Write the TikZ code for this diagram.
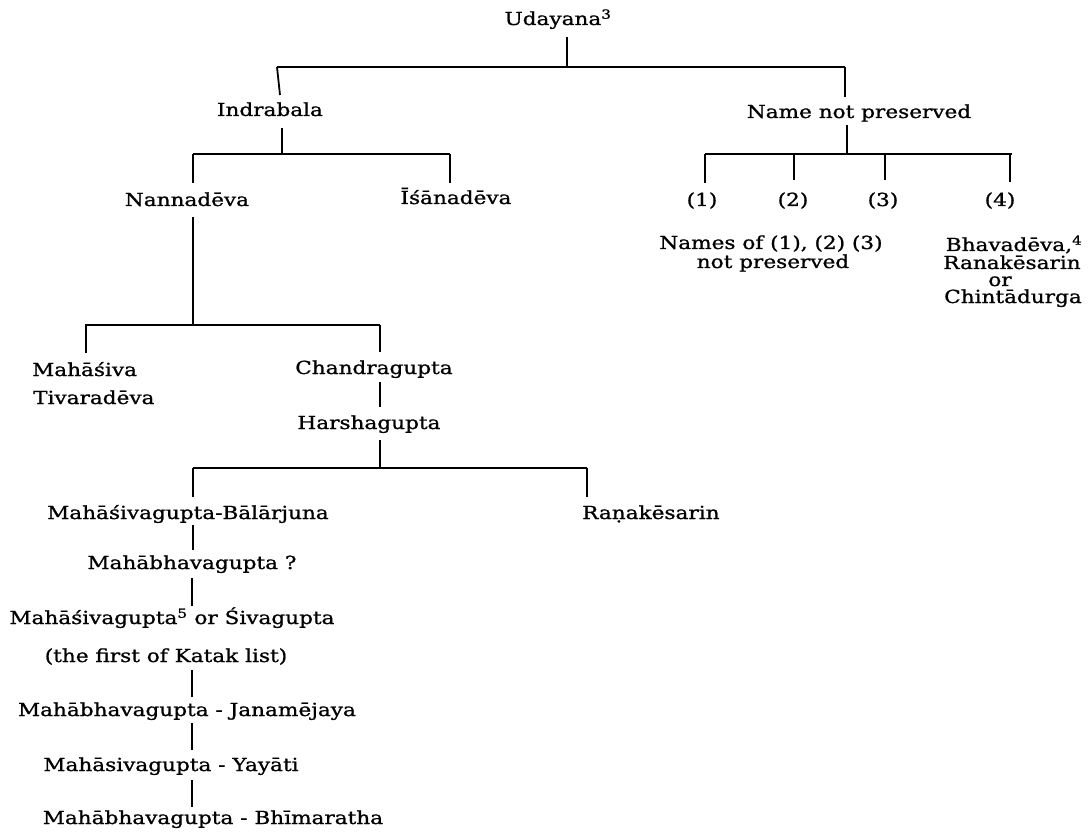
\documentclass[tikz,border=0pt]{standalone}
\usepackage{fontspec}
\setmainfont{DejaVu Serif}[FakeStretch=1.2,FakeBold=1]
\begin{document}
\begin{tikzpicture}[x=1pt,y=-1pt,
  lbl/.style={inner sep=0pt,anchor=base,font=\fontsize{18}{19}\selectfont},
  lblw/.style={lbl,anchor=base west},
  bar/.style={line width=1.2pt},
  stem/.style={line width=1.8pt}]
\useasboundingbox[fill=white] (0,0) rectangle (1092,834);
% nodes
\node[lbl] (U) at (558,25) {Udayana\textsuperscript{3}};
\node[lbl] (Ind) at (270,116) {Indrabala};
\node[lbl] (NNP) at (859,118) {Name not preserved};
\node[lbl] (Nan) at (187,206) {Nannadēva};
\node[lbl] (Isa) at (456,204) {Īśānadēva};
\node[lbl] (p1) at (702,206) {(1)};
\node[lbl] (p2) at (793,206) {(2)};
\node[lbl] (p3) at (883,206) {(3)};
\node[lbl] (p4) at (1000,206) {(4)};
\node[lbl] (NamA) at (771,249) {Names of (1), (2) (3)};
\node[lbl] (NamB) at (773,268) {not preserved};
\node[lbl] (Bh1) at (1014,251) {Bhavadēva,\textsuperscript{4}};
\node[lbl] (Bh2) at (1012,269) {Ranakēsarin};
\node[lbl] (Bh3) at (1000,286) {or};
\node[lbl] (Bh4) at (1013,303) {Chintādurga};
\node[lblw] (MSv) at (32,376) {Mahāśiva};
\node[lblw] (Tiv) at (33,404) {Tivaradēva};
\node[lbl] (Cha) at (374,374) {Chandragupta};
\node[lbl] (Har) at (369,429) {Harshagupta};
\node[lbl] (MSB) at (188,519) {Mahāśivagupta-Bālārjuna};
\node[lblw] (Ran) at (582,519) {Raṇakēsarin};
\node[lbl] (MBq) at (192,569) {Mahābhavagupta ?};
\node[lbl] (MS5) at (172,624) {Mahāśivagupta\textsuperscript{5} or Śivagupta};
\node[lbl] (Kat) at (166,662) {(the first of Katak list)};
\node[lbl] (Jan) at (187,716) {Mahābhavagupta - Janamējaya};
\node[lbl] (Yay) at (171,771) {Mahāsivagupta - Yayāti};
\node[lbl] (Bhi) at (213,824) {Mahābhavagupta - Bhīmaratha};
% junction coordinates
\coordinate (u0) at (567,37);   \coordinate (u1) at (567,67);
\coordinate (bL) at (277,67);   \coordinate (bR) at (845,67);
\coordinate (i0) at (280,95);   \coordinate (n0) at (845,97);
\coordinate (i1) at (282,128);  \coordinate (i2) at (282,154);
\coordinate (cL) at (193,154);  \coordinate (cR) at (450,154);
\coordinate (c1) at (193,183);  \coordinate (c2) at (450,183);
\coordinate (n1) at (847,125);  \coordinate (n2) at (847,154);
\coordinate (dL) at (705,154);  \coordinate (dR) at (1012,154);
\coordinate (d1) at (705,183);  \coordinate (d2) at (794,180);
\coordinate (d2t) at (794,154); \coordinate (d3) at (885,180);
\coordinate (d3t) at (885,154); \coordinate (d4) at (1010,182);
\coordinate (d4t) at (1010,154);
\coordinate (a0) at (193,217);  \coordinate (a1) at (193,325);
\coordinate (eL) at (85,325);   \coordinate (eR) at (380,325);
\coordinate (e1) at (86,353);   \coordinate (e1t) at (86,325);
\coordinate (e2) at (380,352);
\coordinate (h0) at (380,382);  \coordinate (h1) at (380,407);
\coordinate (g0) at (380,440);  \coordinate (g1) at (380,468);
\coordinate (fL) at (193,468);  \coordinate (fR) at (587,468);
\coordinate (f1) at (193,497);  \coordinate (f2) at (587,497);
\coordinate (m0) at (193,525);  \coordinate (m1) at (193,550);
\coordinate (k0) at (192,578);  \coordinate (k1) at (192,606);
\coordinate (q0) at (192,670);  \coordinate (q1) at (192,697);
\coordinate (r0) at (192,723);  \coordinate (r1) at (192,750);
\coordinate (s0) at (192,780);  \coordinate (s1) at (192,807);
% connectors
\draw[stem] (u0) -- (u1);
\draw[bar] (bL) -- (bR);
\draw[stem] (bL) -- (i0);
\draw[stem] (bR) -- (n0);
\draw[stem] (i1) -- (i2);
\draw[bar] (cL) -- (cR);
\draw[stem] (cL) -- (c1);
\draw[stem] (cR) -- (c2);
\draw[stem] (n1) -- (n2);
\draw[bar] (dL) -- (dR);
\draw[stem] (dL) -- (d1);
\draw[stem] (d2t) -- (d2);
\draw[stem] (d3t) -- (d3);
\draw[stem] (d4t) -- (d4);
\draw[bar] (a0) -- (a1);
\draw[bar] (eL) -- (eR);
\draw[stem] (e1t) -- (e1);
\draw[stem] (eR) -- (e2);
\draw[stem] (h0) -- (h1);
\draw[stem] (g0) -- (g1);
\draw[bar] (fL) -- (fR);
\draw[stem] (fL) -- (f1);
\draw[stem] (fR) -- (f2);
\draw[stem] (m0) -- (m1);
\draw[bar] (k0) -- (k1);
\draw[bar] (q0) -- (q1);
\draw[bar] (r0) -- (r1);
\draw[bar] (s0) -- (s1);
\end{tikzpicture}
\end{document}
